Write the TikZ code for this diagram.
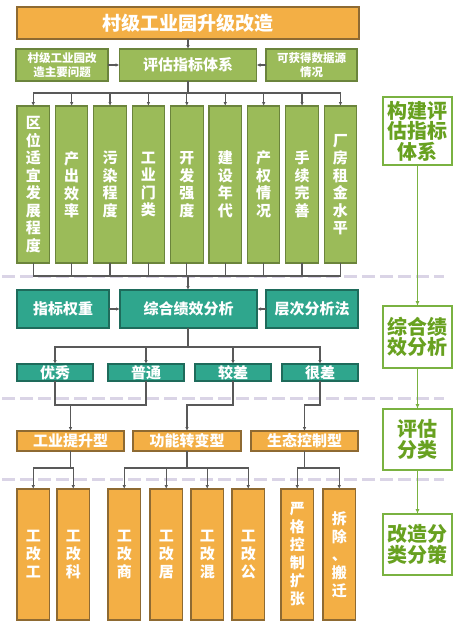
\documentclass[tikz,border=0pt]{standalone}
\usepackage{fontspec}
\setmainfont{Noto Sans CJK SC}
\usetikzlibrary{arrows.meta,positioning}
\definecolor{grfill}{HTML}{9BBB59}
\definecolor{grline}{HTML}{6B843C}
\definecolor{tlfill}{HTML}{2FA68D}
\definecolor{tlline}{HTML}{1E6B5B}
\definecolor{orfill}{HTML}{F3AF45}
\definecolor{orline}{HTML}{8E6A32}
\definecolor{ltgreen}{HTML}{7AB241}
\definecolor{stgtext}{HTML}{68A120}
\definecolor{sepcol}{HTML}{DAD4E6}
\definecolor{wirecol}{HTML}{595959}

\begin{document}
\begin{tikzpicture}[x=1pt,y=-1pt,
  node distance=5.9pt,
  box/.style={draw,line width=1.1pt,inner sep=0pt,outer sep=0pt,anchor=north west,align=center,text=white,font=\bfseries\fontsize{15}{17.5}\selectfont},
  gbox/.style={box,fill=grfill,draw=grline},
  tbox/.style={box,fill=tlfill,draw=tlline},
  obox/.style={box,fill=orfill,draw=orline},
  col/.style={gbox,minimum width=32.5,minimum height=157},
  leaf/.style={obox,minimum width=32.5,minimum height=131,font=\bfseries\fontsize{15}{18}\selectfont},
  stage/.style={draw=ltgreen,line width=1.5pt,fill=white,inner sep=0pt,outer sep=0pt,anchor=north west,align=center,text=stgtext,minimum width=69,font=\bfseries\fontsize{20}{20.5}\selectfont},
  arr/.style={-{Latex[length=4pt,width=3.5pt]},draw=wirecol,line width=1.2pt},
  link/.style={draw=wirecol,line width=1.2pt},
  garr/.style={-{Latex[length=5pt,width=4pt]},draw=ltgreen,line width=1.5pt},
  sep/.style={draw=sepcol,line width=3pt,dash pattern=on 13pt off 5pt}]
\useasboundingbox (0,0) rectangle (464,629);
% separators
\draw[sep] (2,276) -- (444,276);
\draw[sep] (2,398) -- (444,398);
\draw[sep] (2,479) -- (444,479);
% indicator system
\node[obox,minimum width=342,minimum height=32,font=\bfseries\fontsize{19}{21}\selectfont] (title) at (17,7) {村级工业园升级改造};
\node[gbox,minimum width=92,minimum height=32,font=\bfseries\fontsize{11.5}{13.5}\selectfont] (prob) at (16,49) {村级工业园改\\造主要问题};
\node[gbox,minimum width=137,minimum height=32] (eval) at (119.5,49) {评估指标体系};
\node[gbox,minimum width=91,minimum height=32,font=\bfseries\fontsize{11.5}{13.5}\selectfont] (data) at (266,49) {可获得数据源\\情况};
\draw[arr] (title.south) -- (eval.north);
\draw[arr] (prob) -- (eval);\draw[arr] (data) -- (eval);
\node[col] (c1) at (17,106) {区\\位\\适\\宜\\发\\展\\程\\度};
\node[col,right=of c1] (c2) {产\\出\\效\\率};
\node[col,right=of c2] (c3) {污\\染\\程\\度};
\node[col,right=of c3] (c4) {工\\业\\门\\类};
\node[col,right=of c4] (c5) {开\\发\\强\\度};
\node[col,right=of c5] (c6) {建\\设\\年\\代};
\node[col,right=of c6] (c7) {产\\权\\情\\况};
\node[col,right=of c7] (c8) {手\\续\\完\\善};
\node[col,right=of c8] (c9) {厂\\房\\租\\金\\水\\平};
\coordinate (bus1) at (188,93);
\draw[link] (eval.south) -- (bus1);
\draw[arr] (bus1) -| (c1.north);\draw[arr] (bus1) -| (c2.north);\draw[arr] (bus1) -| (c3.north);
\draw[arr] (bus1) -| (c4.north);\draw[arr] (bus1) -| (c5.north);\draw[arr] (bus1) -| (c6.north);
\draw[arr] (bus1) -| (c7.north);\draw[arr] (bus1) -| (c8.north);\draw[arr] (bus1) -| (c9.north);
% performance analysis
\coordinate (bus2) at (188,276);
\draw[link] (c1.south) |- (bus2);\draw[link] (c2.south) |- (bus2);\draw[link] (c3.south) |- (bus2);
\draw[link] (c4.south) |- (bus2);\draw[link] (c5.south) |- (bus2);\draw[link] (c6.south) |- (bus2);
\draw[link] (c7.south) |- (bus2);\draw[link] (c8.south) |- (bus2);\draw[link] (c9.south) |- (bus2);
\node[tbox,minimum width=92,minimum height=38] (weight) at (17,290) {指标权重};
\node[tbox,minimum width=137,minimum height=38] (perf) at (120,290) {综合绩效分析};
\node[tbox,minimum width=92,minimum height=38] (ahp) at (266,290) {层次分析法};
\draw[arr] (bus2) -- (bus2 |- perf.north);
\draw[arr] (weight) -- (perf);\draw[arr] (ahp) -- (perf);
\node[tbox,minimum width=76,minimum height=17] (exc) at (17,364) {优秀};
\node[tbox,minimum width=76,minimum height=17] (ord) at (108,364) {普通};
\node[tbox,minimum width=76,minimum height=17] (weak) at (195,364) {较差};
\node[tbox,minimum width=76,minimum height=17] (bad) at (282,364) {很差};
\coordinate (bus3) at (188,347);
\draw[link] (bus2 |- perf.south) -- (bus3);
\draw[arr] (bus3) -| (exc.north);\draw[arr] (bus3) -| (ord.north);\draw[arr] (bus3) -| (weak.north);\draw[arr] (bus3) -| (bad.north);
% classification
\node[obox,minimum width=107,minimum height=20,font=\bfseries\fontsize{15}{17}\selectfont] (ind) at (17,431) {工业提升型};
\node[obox,minimum width=108,minimum height=20,font=\bfseries\fontsize{15}{17}\selectfont] (func) at (133,431) {功能转变型};
\node[obox,minimum width=107,minimum height=20,font=\bfseries\fontsize{15}{17}\selectfont] (eco) at (251,431) {生态控制型};
\coordinate (j1) at (70.5,405);\coordinate (j2) at (187,405);\coordinate (j3) at (304.5,405);
\draw[link] (exc.south) |- (j1) -| (ord.south);
\draw[arr] (j1) -- (ind.north);
\draw[arr] (weak.south) |- (j2) -- (func.north);
\draw[arr] (bad.south) |- (j3) -- (eco.north);
% schemes
\node[leaf] (ii) at (17,489) {工\\改\\工};
\node[leaf] (ik) at (57,489) {工\\改\\科};
\node[leaf] (ic) at (108,489) {工\\改\\商};
\node[leaf] (ih) at (150,489) {工\\改\\居};
\node[leaf] (im) at (191,489) {工\\改\\混};
\node[leaf] (ip) at (232,489) {工\\改\\公};
\node[leaf] (strict) at (281,489) {严\\格\\控\\制\\扩\\张};
\node[leaf] (move) at (323,489) {拆\\除\\、\\搬\\迁};
\coordinate (k1) at (70.5,468);\coordinate (k2) at (187,468);\coordinate (k3) at (304.5,468);
\draw[link] (ind.south) -- (k1);\draw[link] (func.south) -- (k2);\draw[link] (eco.south) -- (k3);
\draw[arr] (k1) -| (ii.north);\draw[arr] (k1) -| (ik.north);
\draw[arr] (k2) -| (ic.north);\draw[arr] (k2) -| (ih.north);\draw[arr] (k2) -| (im.north);\draw[arr] (k2) -| (ip.north);
\draw[arr] (k3) -| (strict.north);\draw[arr] (k3) -| (move.north);
% stages
\node[stage,minimum height=68] (s1) at (383,97) {构建评\\估指标\\体系};
\node[stage,minimum height=62] (s2) at (383,306) {综合绩\\效分析};
\node[stage,minimum height=61] (s3) at (383,409) {评估\\分类};
\node[stage,minimum height=61] (s4) at (383,514) {改造分\\类分策};
\draw[garr] (s1) -- (s2);\draw[garr] (s2) -- (s3);\draw[garr] (s3) -- (s4);
\end{tikzpicture}
\end{document}
